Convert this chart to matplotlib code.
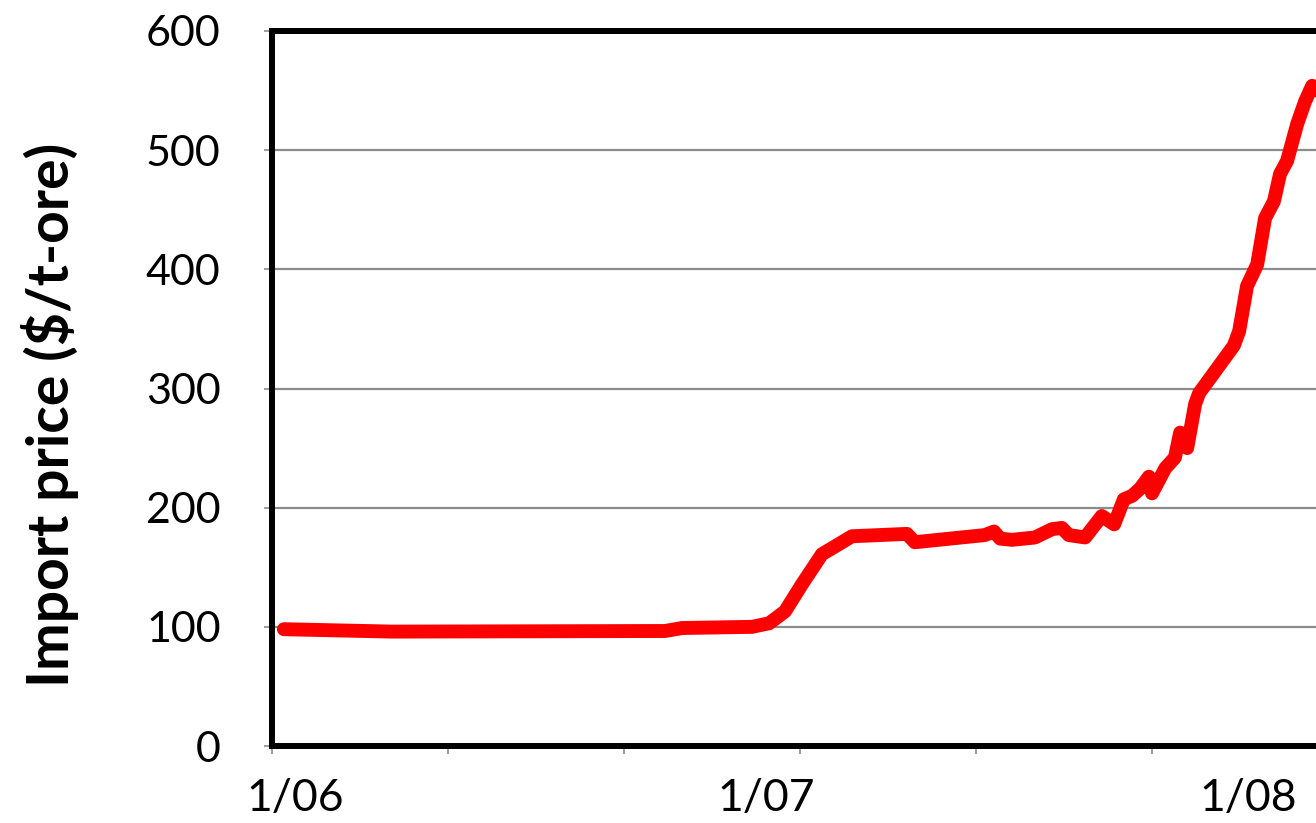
import matplotlib
matplotlib.use("Agg")
import matplotlib.pyplot as plt
from matplotlib.ticker import FixedLocator, NullFormatter

# months since 1/06 and import price ($/t-ore)
months = [0.27, 2.73, 8.93, 9.32, 10.91, 11.30, 11.66, 12.05, 12.50, 12.73,
          13.18, 14.43, 14.61, 16.20, 16.41, 16.55, 16.82, 17.34, 17.73, 17.95,
          18.11, 18.48, 18.86, 19.14, 19.36, 19.55, 19.73, 19.93, 20.00, 20.30,
          20.52, 20.64, 20.80, 20.98, 21.07, 21.86, 21.98, 22.16, 22.39, 22.57,
          22.77, 22.91, 23.07, 23.30, 23.48, 23.64, 23.75, 23.90]
price = [98, 96, 96.5, 99, 100, 103, 113, 136, 161, 166,
         176, 178, 171, 177, 180, 174, 173, 175, 182, 183,
         177, 175, 193, 186, 207, 210, 216, 226, 212, 233,
         242, 263, 250, 287, 296, 336, 348, 386, 404, 443,
         457, 480, 491, 522, 541, 554, 550, 548]

tick_months = [0, 4, 8, 12, 16, 20, 24]
label_months = [0.52, 11.23, 22.18]
label_text = ["1/06", "1/07", "1/08"]
yticks = [0, 100, 200, 300, 400, 500, 600]

W, H = 1316, 823
fig = plt.figure(figsize=(W / 100, H / 100), dpi=100)

# plot area runs past the right edge of the picture, as in the original
left, right, top, bottom = 272, 1348, 31, 746
ax = fig.add_axes([left / W, (H - bottom) / H, (right - left) / W, (bottom - top) / H])
ax.set_xlim(0, (right - left) / 44)
ax.set_ylim(0, 600)

ax.plot(months, price, color="#ff0000", lw=10, solid_capstyle="round",
        solid_joinstyle="round", zorder=3)

ax.set_yticks(yticks)
ax.grid(axis="y", color="#8c8c8c", lw=1.6, zorder=1)
ax.tick_params(axis="y", direction="out", length=6, width=1.2, color="#8c8c8c",
               pad=31, labelsize=31)
for lab in ax.get_yticklabels():
    lab.set_family("Lato")

ax.xaxis.set_major_locator(FixedLocator(label_months))
ax.set_xticklabels(label_text, family="Lato", fontsize=32)
ax.xaxis.set_minor_locator(FixedLocator(tick_months))
ax.xaxis.set_minor_formatter(NullFormatter())
ax.tick_params(axis="x", which="major", length=0, pad=23)
ax.tick_params(axis="x", which="minor", direction="out", length=6, width=1.2,
               color="#8c8c8c")

for side in ["left", "bottom", "top"]:
    ax.spines[side].set_linewidth(4.3)
    ax.spines[side].set_color("black")
ax.spines["right"].set_visible(False)

fig.text(50 / W, 1 - 415 / H, "Import price ($/t-ore)", rotation=90,
         ha="center", va="center", family="Lato", fontweight="bold", fontsize=41)

fig.savefig("out.png", dpi=100)
